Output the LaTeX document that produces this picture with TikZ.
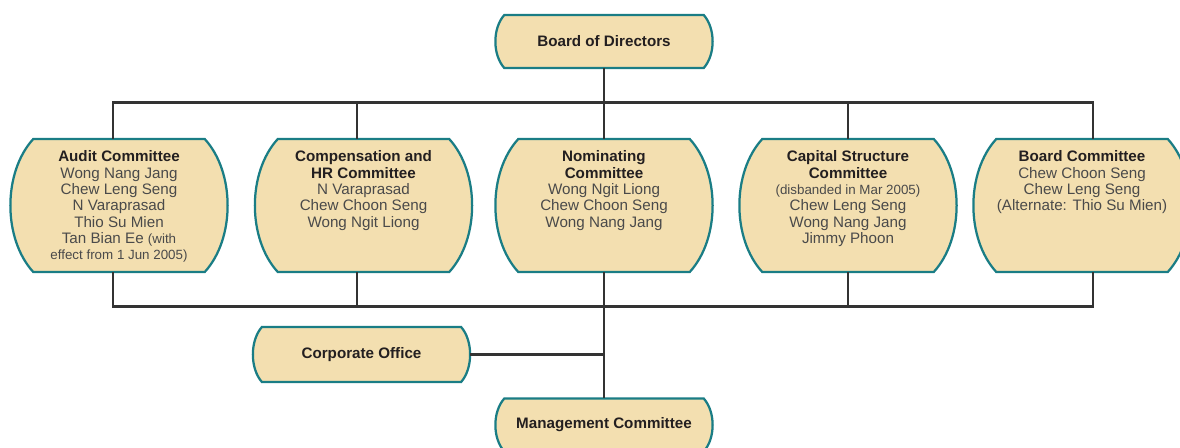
\documentclass[tikz,border=0pt]{standalone}
\usepackage{fontspec}
\setmainfont{Liberation Sans}
\usepackage{tikz}
\usetikzlibrary{calc,positioning,backgrounds}
\definecolor{boxfill}{HTML}{F3DFB0}
\definecolor{boxedge}{HTML}{1A7D85}
\definecolor{linegray}{HTML}{333333}
\definecolor{headtxt}{HTML}{231F20}
\definecolor{nametxt}{HTML}{4A4A4A}
\newcommand{\hd}[1]{\textcolor{headtxt}{\bfseries #1}}
\newcommand{\smtxt}[1]{{\fontsize{9.5}{11}\selectfont #1}}

\begin{document}
\begin{tikzpicture}
		[x=0.025cm,y=-0.025cm,
		smallbox/.style={inner sep=0pt,outer sep=0pt,minimum width=5.43cm,
			minimum height=1.33cm,font=\fontsize{10.8}{11.6}\selectfont\bfseries,
			text=headtxt},
		combox/.style={inner sep=0pt,outer sep=0pt,minimum width=5.43cm,
			minimum height=3.325cm},
		comtext/.style={inner sep=0pt,align=center,text=nametxt,
			font=\fontsize{10.8}{11.6}\selectfont},
		boxline/.style={draw=boxedge,fill=boxfill,line width=1.6pt},
		conn/.style={draw=linegray,line width=1.6pt}]
		\useasboundingbox (0,0) rectangle (1180,448);
		%---------------------top and bottom boxes------------
		\node[smallbox] (bod) at (604,41.5) {Board of Directors};
		\node[smallbox,minimum height=1.375cm] (corp) at (361.5,354.5) {Corporate Office};
		\node[smallbox] (mgmt) at (604,425) {Management Committee};
		%---------------------committees---------
		\node[combox] (audit) at (119,205.5) {};
		\node[combox] (comp) at (363.5,205.5) {};
		\node[combox] (nom) at (604,205.5) {};
		\node[combox] (cap) at (848,205.5) {};
		\node[combox] (brd) at (1082,205.5) {};
		
		\node[comtext,below=8.2pt of audit.north] (audittxt)
		{\hd{Audit Committee}\\Wong Nang Jang\\Chew Leng Seng\\N Varaprasad\\Thio Su Mien\\
			Tan Bian Ee \smtxt{(with}\\\smtxt{effect from 1 Jun 2005)}};
		\node[comtext,below=8.2pt of comp.north] (comptxt)
		{\hd{Compensation and}\\\hd{HR Committee}\\N Varaprasad\\Chew Choon Seng\\Wong Ngit Liong};
		\node[comtext,below=8.2pt of nom.north] (nomtxt)
		{\hd{Nominating}\\\hd{Committee}\\Wong Ngit Liong\\Chew Choon Seng\\Wong Nang Jang};
		\node[comtext,below=8.2pt of cap.north] (captxt)
		{\hd{Capital Structure}\\\hd{Committee}\\\smtxt{(disbanded in Mar 2005)}\\Chew Leng Seng\\
			Wong Nang Jang\\Jimmy Phoon};
		\node[comtext,below=8.2pt of brd.north] (brdtxt)
		{\hd{Board Committee}\\Chew Choon Seng\\Chew Leng Seng\\(Alternate: Thio Su Mien)};
		
		%----barrel outlines behind the text------
		\begin{scope}[on background layer]
			\foreach \nm/\ins in {bod/6.4pt,corp/6.4pt,mgmt/6.4pt,audit/16.3pt,comp/16.3pt,
				nom/16.3pt,cap/16.3pt,brd/16.3pt}
			\draw[boxline] let \p1=(\nm.north west), \p2=(\nm.south east) in
			(\x1+\ins,\y1) -- (\x2-\ins,\y1)
			.. controls (\x2+\ins/3,0.75*\y1+0.25*\y2) and (\x2+\ins/3,0.25*\y1+0.75*\y2) .. (\x2-\ins,\y2)
			-- (\x1+\ins,\y2)
			.. controls (\x1-\ins/3,0.25*\y1+0.75*\y2) and (\x1-\ins/3,0.75*\y1+0.25*\y2) .. cycle;
		\end{scope}
		
		%---------------------connectors------------
		\coordinate (topbus) at (604,102.5);
		\coordinate (botbus) at (604,306.5);
		\draw[conn] (bod.south) -- (nom.north);
		\draw[conn] (nom.south) -- (mgmt.north);
		\draw[conn] ([xshift=-4.3pt]audit.north) |- (topbus) -| ([xshift=7.8pt]brd.north);
		\draw[conn] ([xshift=-4.6pt]comp.north) -- ([xshift=-4.6pt]comp.north |- topbus);
		\draw[conn] (cap.north) -- (cap.north |- topbus);
		\draw[conn] ([xshift=-4.3pt]audit.south) |- (botbus) -| ([xshift=7.8pt]brd.south);
		\draw[conn] ([xshift=-4.6pt]comp.south) -- ([xshift=-4.6pt]comp.south |- botbus);
		\draw[conn] (cap.south) -- (cap.south |- botbus);
		\draw[conn] (corp.east) -- (corp.east -| botbus);
\end{tikzpicture}
\end{document}
